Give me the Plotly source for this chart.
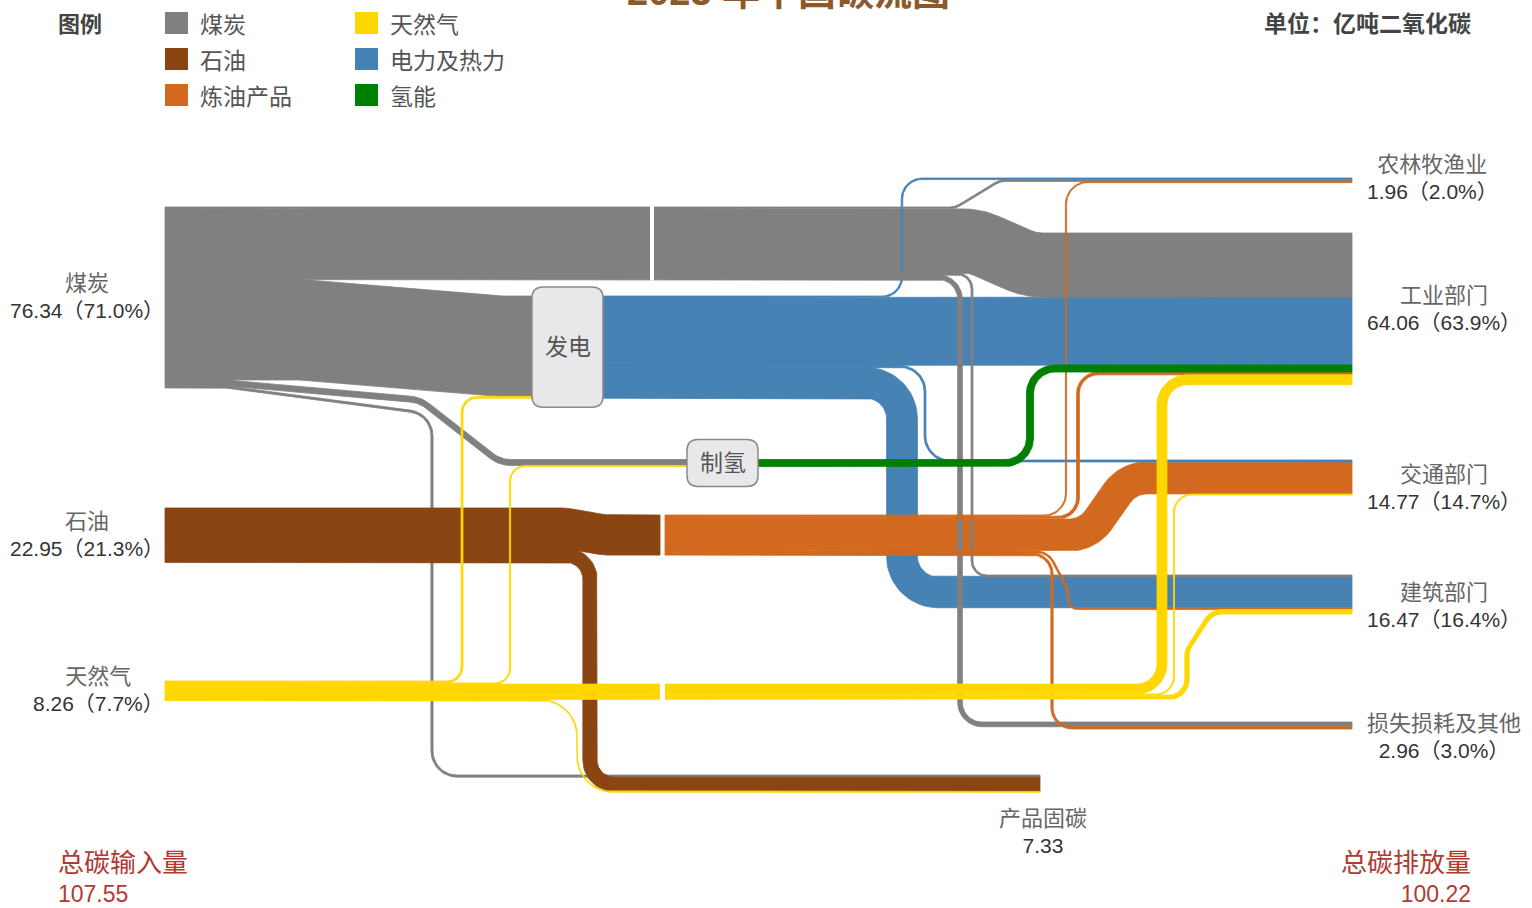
import numpy as np
import plotly.graph_objects as go

# 2023 年中国碳流图 (单位：亿吨二氧化碳)
source_names = ["煤炭", "石油", "天然气"]
source_values = [76.34, 22.95, 8.26]
sector_names = ["农林牧渔业", "工业部门", "交通部门", "建筑部门", "损失损耗及其他"]
sector_values = [1.96, 64.06, 14.77, 16.47, 2.96]
fixed_name = "产品固碳"
fixed_value = 7.33
total_input = 107.55
total_emission = 100.22

# links, values
link_source = (["煤炭"] * 7 + ["石油"] * 2 + ["天然气"] * 6 + ["发电"] * 4
               + ["制氢"] + ["炼油"] * 5)
link_target = ["农林牧渔业", "工业部门", "建筑部门", "损失损耗及其他", "发电", "制氢", "产品固碳",
               "炼油", "产品固碳",
               "发电", "制氢", "工业部门", "交通部门", "建筑部门", "产品固碳",
               "农林牧渔业", "工业部门", "交通部门", "建筑部门",
               "工业部门",
               "农林牧渔业", "工业部门", "交通部门", "建筑部门", "损失损耗及其他"]
link_value = [0.80, 27.00, 0.80, 2.00, 42.34, 2.50, 0.90,
              16.92, 6.03,
              0.80, 0.50, 4.20, 0.47, 1.89, 0.40,
              0.66, 28.66, 0.80, 13.02,
              3.00,
              0.50, 1.20, 13.50, 0.76, 0.96]

legend_names = ["煤炭", "石油", "炼油产品", "天然气", "电力及热力", "氢能"]

# ---------------- styling / layout ----------------
W, H = 1532, 908
K = 2.37  # px per 亿吨
FONT = "Liberation Sans, Noto Sans CJK SC, sans-serif"
CJK = "Noto Sans CJK SC, sans-serif"

carrier_color = {"煤炭": "#808080", "石油": "#8B4513", "炼油": "#D2691E",
                 "天然气": "#FFD700", "发电": "#4682B4", "制氢": "#008000"}
legend_colors = ["#808080", "#8B4513", "#D2691E", "#FFD700", "#4682B4", "#008000"]

geo = {
    "煤炭": dict(x_out=165, top=207),
    "石油": dict(x_out=165, top=508),
    "天然气": dict(x_out=165, top=681),
    "发电": dict(x_in=532, x_out=603, top=296),
    "制氢": dict(x_in=687, x_out=758, top=459.5),
    "炼油": dict(x_in=660, x_out=665, top=515),
    "产品固碳": dict(x_in=1040, top=775),
    "农林牧渔业": dict(x_in=1352, top=178),
    "工业部门": dict(x_in=1352, top=233),
    "交通部门": dict(x_in=1352, top=460),
    "建筑部门": dict(x_in=1352, top=575),
    "损失损耗及其他": dict(x_in=1352, top=722),
}

out_order = {
    "煤炭": ["农林牧渔业", "工业部门", "建筑部门", "损失损耗及其他", "发电", "制氢", "产品固碳"],
    "石油": ["炼油", "产品固碳"],
    "天然气": ["发电", "制氢", "工业部门", "交通部门", "建筑部门", "产品固碳"],
    "发电": ["农林牧渔业", "工业部门", "交通部门", "建筑部门"],
    "制氢": ["工业部门"],
    "炼油": ["农林牧渔业", "工业部门", "交通部门", "建筑部门", "损失损耗及其他"],
}
in_order = {
    "发电": ["煤炭", "天然气"],
    "制氢": ["煤炭", "天然气"],
    "炼油": ["石油"],
    "产品固碳": ["煤炭", "石油", "天然气"],
    "农林牧渔业": ["发电", "煤炭", "炼油"],
    "工业部门": ["煤炭", "发电", "制氢", "炼油", "天然气"],
    "交通部门": ["发电", "炼油", "天然气"],
    "建筑部门": ["煤炭", "发电", "炼油", "天然气"],
    "损失损耗及其他": ["煤炭", "炼油"],
}

# waypoints of the band centre lines ("sy"/"ty" = source/target centre), corner radius
routes = {
    ("煤炭", "农林牧渔业"): ([(955, "sy"), (1000, "ty")], 20),
    ("煤炭", "工业部门"): ([(975, "sy"), (1030, "ty")], 60),
    ("煤炭", "建筑部门"): ([(972, "sy"), (972, "ty")], 15),
    ("煤炭", "损失损耗及其他"): ([(960, "sy"), (960, "ty")], 22),
    ("煤炭", "发电"): ([(300, "sy"), (500, "ty")], 90),
    ("煤炭", "制氢"): ([(225, "sy"), (420, 400), (500, "ty")], 30),
    ("煤炭", "产品固碳"): ([(225, "sy"), (432, 414), (432, "ty")], 25),
    ("石油", "炼油"): ([(565, "sy"), (605, "ty")], 40),
    ("石油", "产品固碳"): ([(590, "sy"), (590, "ty")], 24),
    ("天然气", "发电"): ([(462, "sy"), (462, "ty")], 15),
    ("天然气", "制氢"): ([(510, "sy"), (510, "ty")], 15),
    ("天然气", "工业部门"): ([(1162, "sy"), (1162, "ty")], 25),
    ("天然气", "交通部门"): ([(1174, "sy"), (1174, "ty")], 18),
    ("天然气", "建筑部门"): ([(1187, "sy"), (1187, 650), (1212, "ty")], 18),
    ("天然气", "产品固碳"): ([(577, "sy"), (577, "ty")], 36),
    ("发电", "农林牧渔业"): ([(902, "sy"), (902, "ty")], 20),
    ("发电", "工业部门"): ([], 0),
    ("发电", "交通部门"): ([(925, "sy"), (925, "ty")], 25),
    ("发电", "建筑部门"): ([(902, "sy"), (902, "ty")], 36),
    ("制氢", "工业部门"): ([(1030, "sy"), (1030, "ty")], 25),
    ("炼油", "农林牧渔业"): ([(1066, "sy"), (1066, "ty")], 22),
    ("炼油", "工业部门"): ([(1078, "sy"), (1078, "ty")], 20),
    ("炼油", "交通部门"): ([(1088, "sy"), (1128, "ty")], 36),
    ("炼油", "建筑部门"): ([(1048, "sy"), (1068, 590), (1068, "ty")], 18),
    ("炼油", "损失损耗及其他"): ([(1052, "sy"), (1052, "ty")], 20),
}

idx = {(s, t): i for i, (s, t) in enumerate(zip(link_source, link_target))}

# stack the bands at every node
sy, ty = {}, {}
for node, order in out_order.items():
    y = geo[node]["top"]
    for t in order:
        i = idx[(node, t)]
        w = link_value[i] * K
        sy[i] = y + w / 2
        y += w
for node, order in in_order.items():
    y = geo[node]["top"]
    for s in order:
        i = idx[(s, node)]
        w = link_value[i] * K
        ty[i] = y + w / 2
        y += w


def centerline(pts, R):
    P = [np.array(pts[0], float)]
    for p in pts[1:]:
        p = np.array(p, float)
        if np.hypot(*(p - P[-1])) > 1e-6:
            P.append(p)
    n = len(P)
    segs = []
    for a, b in zip(P[:-1], P[1:]):
        d = b - a
        L = np.hypot(*d)
        segs.append((d / L, L))
    out = [(P[0], segs[0][0])]
    for i in range(1, n - 1):
        d1, L1 = segs[i - 1]
        d2, L2 = segs[i]
        phi = np.arccos(np.clip(d1 @ d2, -1, 1))
        if phi < 1e-6:
            out.append((P[i], d1))
            continue
        lim1 = L1 if i - 1 == 0 else L1 / 2
        lim2 = L2 if i + 1 == n - 1 else L2 / 2
        r = min(R, min(lim1, lim2) / np.tan(phi / 2))
        t = r * np.tan(phi / 2)
        sgn = np.sign(d1[0] * d2[1] - d1[1] * d2[0])
        n1 = sgn * np.array([-d1[1], d1[0]])
        p1 = P[i] - d1 * t
        O = p1 + n1 * r
        a1 = np.arctan2((p1 - O)[1], (p1 - O)[0])
        for s in np.linspace(0, 1, 19):
            a = a1 + sgn * phi * s
            q = O + r * np.array([np.cos(a), np.sin(a)])
            out.append((q, sgn * np.array([-np.sin(a), np.cos(a)])))
    out.append((P[-1], segs[-1][0]))
    return out


def band_polygon(i):
    s, t = link_source[i], link_target[i]
    wps, R = routes[(s, t)]
    pts = [(geo[s]["x_out"], sy[i])]
    for wx, wy in wps:
        pts.append((wx, sy[i] if wy == "sy" else ty[i] if wy == "ty" else wy))
    pts.append((geo[t]["x_in"], ty[i]))
    w = link_value[i] * K / 2
    left, right = [], []
    for q, tg in centerline(pts, R):
        nrm = np.array([-tg[1], tg[0]])
        left.append(q + nrm * w)
        right.append(q - nrm * w)
    poly = left + right[::-1] + [left[0]]
    return [p[0] for p in poly], [p[1] for p in poly]


fig = go.Figure()

# drawing order: wide bands, thin lines, oil, natural gas
wide = [i for i in range(len(link_value)) if link_value[i] * K > 8
        and link_source[i] not in ("石油", "天然气")]
thin = [i for i in range(len(link_value)) if link_value[i] * K <= 8
        and link_source[i] not in ("石油", "天然气")]
grp = ["发电", "煤炭", "炼油", "制氢"]
wide.sort(key=lambda i: grp.index(link_source[i]))
thin.sort(key=lambda i: grp.index(link_source[i]))
oil = [i for i in range(len(link_value)) if link_source[i] == "石油"]
gas = [i for i in range(len(link_value)) if link_source[i] == "天然气"]

for i in wide + thin + oil + gas:
    c = carrier_color[link_source[i]]
    x, y = band_polygon(i)
    fig.add_trace(go.Scatter(x=x, y=y, mode="lines", fill="toself", fillcolor=c,
                             line=dict(color=c, width=0.8), hoverinfo="skip"))

shapes = []

# white separators where the direct-use bands pass a node
for src, x0, x1, targets in [("煤炭", 650, 654, ["农林牧渔业", "工业部门", "建筑部门", "损失损耗及其他"]),
                             ("天然气", 660, 665, ["工业部门", "交通部门", "建筑部门"])]:
    ys = [sy[idx[(src, t)]] for t in targets]
    ws = [link_value[idx[(src, t)]] * K / 2 for t in targets]
    shapes.append(dict(type="rect", xref="x", yref="y", x0=x0, x1=x1,
                       y0=min(a - b for a, b in zip(ys, ws)) - 1,
                       y1=max(a + b for a, b in zip(ys, ws)) + 1,
                       fillcolor="white", line=dict(width=0), layer="above"))


def rrect(x0, y0, x1, y1, r):
    return (f"M{x0 + r},{y0} L{x1 - r},{y0} Q{x1},{y0} {x1},{y0 + r} L{x1},{y1 - r} "
            f"Q{x1},{y1} {x1 - r},{y1} L{x0 + r},{y1} Q{x0},{y1} {x0},{y1 - r} "
            f"L{x0},{y0 + r} Q{x0},{y0} {x0 + r},{y0} Z")


# process boxes
for node in ["发电", "制氢"]:
    g = geo[node]
    h = sum(link_value[idx[(s, node)]] for s in in_order[node]) * K
    cy = g["top"] + h / 2
    half = max(h / 2 + 9, 23.5)
    shapes.append(dict(type="path", xref="x", yref="y",
                       path=rrect(g["x_in"], cy - half, g["x_out"], cy + half, 11),
                       fillcolor="#e8e8ea", line=dict(color="#8a8a8a", width=1.5), layer="above"))
    fig.add_annotation(x=(g["x_in"] + g["x_out"]) / 2, y=cy - 2, text=node, showarrow=False,
                       font=dict(family=CJK, size=23, color="#555555"))

# legend
for k, (name, col) in enumerate(zip(legend_names, legend_colors)):
    cx = 165 if k < 3 else 355
    cy = [23, 59, 95][k % 3]
    shapes.append(dict(type="rect", xref="x", yref="y", x0=cx, x1=cx + 23, y0=cy - 11, y1=cy + 11,
                       fillcolor=col, line=dict(width=0)))
    fig.add_annotation(x=cx + 33, y=cy, text=name, showarrow=False, xanchor="left",
                       font=dict(family=CJK, size=23, color="#555555"))
fig.add_annotation(x=56, y=22, text="<b>图例</b>", showarrow=False, xanchor="left",
                   font=dict(family=CJK, size=22, color="#444444"))
fig.add_annotation(x=1473, y=22, text="<b>单位：亿吨二氧化碳</b>", showarrow=False, xanchor="right",
                   font=dict(family=CJK, size=23, color="#444444"))

# title (cut by the top edge as in the original)
fig.add_annotation(x=788, y=1 + 7.5 / H, xref="x", yref="paper", text="<b>2023 年中国碳流图</b>",
                   showarrow=False, yanchor="middle",
                   font=dict(family=FONT, size=38, color="#8C5A28"))


def two_line(name, val, pct=None):
    num = f"{val:.2f}" + (f"（{pct:.1f}%）" if pct is not None else "")
    return f"<span style='color:#666666;font-size:22px'>{name}</span><br>{num}"


# source labels
for name, val in zip(source_names, source_values):
    g = geo[name]
    cy = g["top"] + val * K / 2
    fig.add_annotation(x=166, y=cy - 1, text=two_line(name, val, val / total_input * 100),
                       showarrow=False, xanchor="right", align="center",
                       font=dict(family=FONT, size=21, color="#333333"))

# sector labels
sector_label_y = [177, 308, 487, 605, 736]
for name, val, ly in zip(sector_names, sector_values, sector_label_y):
    fig.add_annotation(x=1365, y=ly, text=two_line(name, val, val / total_emission * 100),
                       showarrow=False, xanchor="left", align="center",
                       font=dict(family=FONT, size=21, color="#333333"))

fig.add_annotation(x=1043, y=831, text=two_line(fixed_name, fixed_value), showarrow=False,
                   align="center", font=dict(family=FONT, size=21, color="#333333"))

# totals
fig.add_annotation(x=56, y=877, text=f"<span style='font-size:26px'>总碳输入量</span><br>{total_input:.2f}",
                   showarrow=False, xanchor="left", align="left",
                   font=dict(family=FONT, size=23, color="#B03A32"))
fig.add_annotation(x=1473, y=877, text=f"<span style='font-size:26px'>总碳排放量</span><br>{total_emission:.2f}",
                   showarrow=False, xanchor="right", align="right",
                   font=dict(family=FONT, size=23, color="#B03A32"))

fig.update_layout(
    width=W, height=H, autosize=False,
    margin=dict(l=0, r=0, t=0, b=0, pad=0),
    paper_bgcolor="white", plot_bgcolor="white",
    showlegend=False, shapes=shapes,
    xaxis=dict(range=[0, W], visible=False, fixedrange=True),
    yaxis=dict(range=[H, 0], visible=False, fixedrange=True),
)

fig.write_html("out.html", config={"displayModeBar": False},
               post_script="document.body.style.margin='0';document.body.style.overflow='hidden';")
